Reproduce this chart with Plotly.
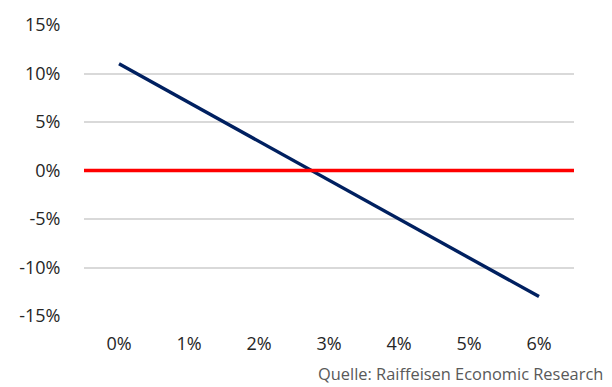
import plotly.graph_objects as go

# Data
x_rate = [0, 1, 2, 3, 4, 5, 6]          # x-axis values (percent)
y_effect = [11, 7, 3, -1, -5, -9, -13]  # navy line values (percent)
zero_level = 0                          # red reference line
y_ticks = [-15, -10, -5, 0, 5, 10, 15]
x_labels = [f"{v}%" for v in x_rate]
y_labels = [f"{v}%" for v in y_ticks]
source_text = "Quelle: Raiffeisen Economic Research"

FONT = "Open Sans"
fig = go.Figure()

fig.add_hline(y=zero_level, line=dict(color="#FF0000", width=3.5), layer="above")

fig.add_trace(go.Scatter(
    x=x_rate, y=y_effect, mode="lines",
    line=dict(color="#002060", width=3.4),
    showlegend=False, hoverinfo="skip",
))

fig.update_layout(
    width=612, height=387,
    margin=dict(l=84, r=38, t=22, b=71),
    paper_bgcolor="white", plot_bgcolor="white",
    font=dict(family=FONT, size=18, color="#262626"),
    showlegend=False,
    xaxis=dict(
        range=[-0.5, 6.5], tickmode="array", tickvals=x_rate, ticktext=x_labels,
        showgrid=False, zeroline=False, showline=False,
        ticks="outside", ticklen=11, tickcolor="rgba(0,0,0,0)",
        fixedrange=True,
    ),
    yaxis=dict(
        range=[-15, 15], tickmode="array", tickvals=y_ticks, ticktext=y_labels,
        showgrid=True, gridcolor="#D9D9D9", gridwidth=1.5,
        zeroline=False, showline=False,
        ticks="outside", ticklen=19, tickcolor="rgba(0,0,0,0)",
        fixedrange=True,
    ),
    annotations=[dict(
        text=source_text, xref="paper", yref="paper",
        x=(605 - 84) / 490, y=-(374 - 316) / 294,
        xanchor="right", yanchor="middle", showarrow=False,
        font=dict(family=FONT, size=16.4, color="#595959"),
    )],
)

fig.write_html("out.html")
